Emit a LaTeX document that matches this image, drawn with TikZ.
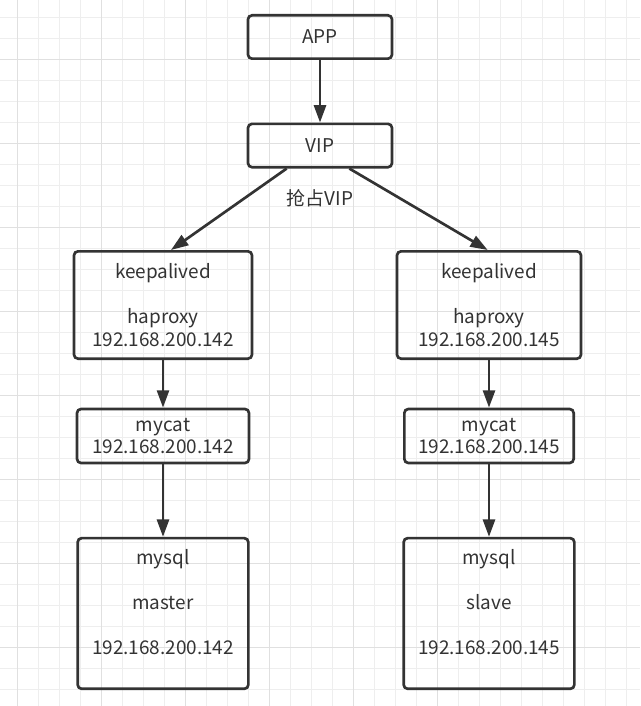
\documentclass[tikz,border=0pt]{standalone}
\usepackage{fontspec}
\setmainfont{Noto Sans CJK SC}
\usepackage{tikz}
\usetikzlibrary{trees,arrows.meta}
\definecolor{ink}{HTML}{333333}
\definecolor{gridminor}{HTML}{EEEEEE}
\definecolor{gridmajor}{HTML}{E0E0E0}
\tikzset{
	every node/.style = {
		shape=rectangle,
		draw=ink,
		text=ink,
		line width=2pt,
		rounded corners=3pt,
		align=center,
		font=\fontsize{14.2pt}{16.9pt}\selectfont
	},
	topbox/.style = {minimum width=108pt, minimum height=32.5pt},
	kabox/.style = {minimum height=80.5pt},
	catbox/.style = {minimum height=40.5pt},
	sqlbox/.style = {minimum width=128pt, minimum height=113pt},
	edge from parent/.style = {draw=ink, line width=2pt, -{Triangle[length=13pt,width=9pt]}},
	straight edge/.style = {edge from parent path={(\tikzparentnode\tikzparentanchor) -- (\tikzchildnode\tikzchildanchor)}},
	level 1/.style = {level distance=81.4pt},
	level 2/.style = {level distance=119.6pt, sibling distance=244.5pt},
	level 3/.style = {level distance=98.25pt, straight edge},
	level 4/.style = {level distance=133.1pt, straight edge}
}

\begin{document}
\begin{tikzpicture}[x=1pt,y=1pt]
	\useasboundingbox (0,0) rectangle (480,-529.5);
	% grid
	\foreach \gx in {0,...,29} {
		\draw[gridminor, line width=0.75pt] (13+15.75*\gx,0) -- (13+15.75*\gx,-529.5);
	}
	\foreach \gy in {0,...,32} {
		\draw[gridminor, line width=0.75pt] (0,-13-15.75*\gy) -- (480,-13-15.75*\gy);
	}
	\foreach \gx in {0,...,5} {
		\draw[gridmajor, line width=0.75pt] (13+63*\gx,0) -- (13+63*\gx,-529.5);
	}
	\foreach \gy in {0,...,7} {
		\draw[gridmajor, line width=0.75pt] (0,-44.5-63*\gy) -- (480,-44.5-63*\gy);
	}

	\node[topbox] (app) at (240,-27.75) {APP}
	child {
		node[topbox] (vip) {VIP}
		child[xshift=4.5pt, edge from parent path={([xshift=-25pt]\tikzparentnode.south) -- ([xshift=6pt]\tikzchildnode.north)}] {
			node[kabox, minimum width=133.5pt] (kaleft) {keepalived\\[\baselineskip]haproxy\\192.168.200.142}
			child {
				node[catbox, minimum width=129pt] (catleft) {mycat\\192.168.200.142}
				child {
					node[sqlbox] (sqlleft) {mysql\\[\baselineskip]master\\[\baselineskip]192.168.200.142\\\mbox{}}
				}
			}
		}
		child[xshift=4.5pt, edge from parent path={([xshift=22pt]\tikzparentnode.south) -- ([xshift=-1pt]\tikzchildnode.north)}] {
			node[kabox, minimum width=138pt] (karight) {keepalived\\[\baselineskip]haproxy\\192.168.200.145}
			child {
				node[catbox, minimum width=127pt] (catright) {mycat\\192.168.200.145}
				child {
					node[sqlbox] (sqlright) {mysql\\[\baselineskip]slave\\[\baselineskip]192.168.200.145\\\mbox{}}
				}
			}
		}
	};

	\node[draw=none] (grab) at ([yshift=-22.5pt]vip.south) {抢占VIP};
\end{tikzpicture}
\end{document}
